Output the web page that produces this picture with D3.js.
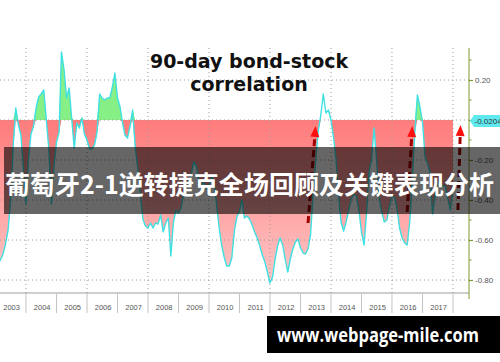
<!DOCTYPE html>
<html>
<head>
<meta charset="utf-8">
<script src="https://cdn.jsdelivr.net/npm/d3@7"></script>
<style>
body{margin:0;background:#fff;}
svg{display:block;}
</style>
</head>
<body>
<div id="chart"></div>
<script>
// monthly 90-day correlation, starting Jan 2003
var startMonth = "2003-01";
var corrValues = [
 -0.72,-0.71,-0.70,-0.67,-0.62,-0.55,-0.40,-0.13, 0.06,-0.02,-0.075,-0.24,
 -0.42,-0.19,-0.07,-0.03, 0.06, 0.115, 0.13, 0.15, 0.00,-0.145,-0.42,-0.23,
 -0.11,-0.06, 0.34, 0.25, 0.11, 0.16, 0.01,-0.14,-0.015,-0.04, 0.01,-0.07,
 -0.10,-0.145,-0.145,-0.125,-0.06, 0.13, 0.11, 0.10, 0.11, 0.11, 0.165, 0.235,
  0.11, 0.065,-0.01,-0.075,-0.09,-0.03, 0.05,-0.135,-0.24,-0.37,-0.495,-0.53,
 -0.54,-0.515,-0.54,-0.515,-0.52,-0.475,-0.56,-0.515,-0.49,-0.68,-0.51,-0.45,
 -0.465,-0.44,-0.375,-0.325,-0.305,-0.275,-0.21,-0.23,-0.30,-0.325,-0.31,-0.345,
 -0.325,-0.285,-0.31,-0.42,-0.535,-0.625,-0.685,-0.73,-0.73,-0.69,-0.555,-0.485,
 -0.455,-0.40,-0.49,-0.48,-0.495,-0.525,-0.56,-0.59,-0.63,-0.675,-0.71,-0.76,
 -0.815,-0.785,-0.70,-0.63,-0.59,-0.625,-0.695,-0.76,-0.695,-0.645,-0.61,-0.595,
 -0.64,-0.665,-0.67,-0.645,-0.575,-0.365,-0.205,-0.055, 0.025, 0.13, 0.035, 0.05,
  0.00,-0.09,-0.19,-0.375,-0.51,-0.555,-0.51,-0.45,-0.395,-0.37,-0.38,-0.45,
 -0.56,-0.625,-0.475,-0.26,-0.20,-0.04,-0.20,-0.39,-0.46,-0.51,-0.50,-0.43,
 -0.385,-0.385,-0.44,-0.54,-0.59,-0.615,-0.625,-0.51,-0.29,-0.06, 0.125, 0.065,
 -0.01,-0.185,-0.215,-0.26,-0.47,-0.38,-0.31,-0.305,-0.33,-0.33,-0.395,-0.45,
 -0.35
];
var yearLabels = [2003,2004,2005,2006,2007,2008,2009,2010,2011,2012,2013,2014,2015,2016,2017];
var gridYears = [2004,2006,2008,2010,2012,2014,2016,2018];
var yTickValues = [0.2,0,-0.2,-0.4,-0.6,-0.8];
var yMinorTicks = [0.3,0.1,-0.1,-0.3,-0.5,-0.7];
var lastValue = -0.0204;
// dashed arrows: [from month, from value, to month, to value]
var arrowMarks = [
 ["2013-04",-0.515,"2013-07",-0.03],
 ["2016-07",-0.46,"2016-09",-0.03],
 ["2018-03",-0.45,"2018-04",-0.025]
];
var titleLines = ["90-day bond-stock","correlation"];
var bannerText = "葡萄牙2-1逆转捷克全场回顾及关键表现分析";
var siteText = "www.webpage-mile.com";

var width = 500, height = 362;
var plotRight = 469, plotTop = 48, plotBottom = 293;

var parseMonth = d3.timeParse("%Y-%m");
var t0 = parseMonth(startMonth);
var series = corrValues.map(function(v,i){
	return {date: d3.timeMonth.offset(t0,i), value: v};
});

var x = d3.scaleTime()
		.domain([new Date(2003,0,1), new Date(2018,0,1)])
		.range([-4.5, 453]);
var y = d3.scaleLinear().domain([-0.8,0.2]).range([280,80]);

var svg = d3.select("#chart")
		.append("svg")
		.attr("width",width)
		.attr("height",height)
		.style("font-family","'Liberation Sans', Arial, sans-serif");

svg.append("rect").attr("width",width).attr("height",height).attr("fill","#fff");

var defs = svg.append("defs");
defs.append("clipPath").attr("id","plotclip")
	.append("rect").attr("x",0).attr("y",plotTop)
	.attr("width",plotRight).attr("height",plotBottom-plotTop);

var greenClip = defs.append("clipPath").attr("id","greenclip");
greenClip.append("rect").attr("x",0).attr("y",0)
	.attr("width",x(new Date(2008,0,1))).attr("height",height);
greenClip.append("rect").attr("x",x(new Date(2016,0,1))).attr("y",0)
	.attr("width",plotRight).attr("height",height);

var pinkGrad = defs.append("linearGradient").attr("id","pinkgrad")
	.attr("gradientUnits","userSpaceOnUse")
	.attr("x1",0).attr("x2",0).attr("y1",y(0)).attr("y2",y(-0.8));
pinkGrad.append("stop").attr("offset","0%").attr("stop-color","#ff7b7b");
pinkGrad.append("stop").attr("offset","100%").attr("stop-color","#ffc6c6");

var plot = svg.append("g").attr("clip-path","url(#plotclip)");

// fills between zero and the line
var negArea = d3.area()
		.x(d => x(d.date))
		.y0(y(0))
		.y1(d => y(Math.min(d.value,0)));
var posArea = d3.area()
		.x(d => x(d.date))
		.y0(y(0))
		.y1(d => y(Math.max(d.value,0)));

plot.append("path").datum(series)
	.attr("d",negArea)
	.attr("fill","url(#pinkgrad)");

plot.append("g").attr("clip-path","url(#greenclip)")
	.append("path").datum(series)
	.attr("d",posArea)
	.attr("fill","#86f086");

// dotted grid
plot.selectAll(".hgrid")
	.data(yTickValues)
	.enter()
	.append("line")
	.attr("class","hgrid")
	.attr("x1",0).attr("x2",plotRight)
	.attr("y1",d => y(d)).attr("y2",d => y(d))
	.attr("stroke","#9a9a9a")
	.attr("stroke-width",1)
	.attr("stroke-dasharray","1,3");

plot.selectAll(".vgrid")
	.data(gridYears)
	.enter()
	.append("line")
	.attr("class","vgrid")
	.attr("x1",d => x(new Date(d,0,1))).attr("x2",d => x(new Date(d,0,1)))
	.attr("y1",plotTop).attr("y2",plotBottom)
	.attr("stroke","#9a9a9a")
	.attr("stroke-width",1)
	.attr("stroke-dasharray","1,3");

var line = d3.line()
		.x(d => x(d.date))
		.y(d => y(d.value));

plot.append("path").datum(series)
	.attr("d",line)
	.attr("fill","none")
	.attr("stroke","#3fe0e2")
	.attr("stroke-width",1.4)
	.attr("stroke-linejoin","round");

// bottom axis
svg.append("line")
	.attr("x1",0).attr("x2",plotRight)
	.attr("y1",plotBottom).attr("y2",plotBottom)
	.attr("stroke","#9c9c9c");

var yearEdges = yearLabels.concat([2018]);
svg.selectAll(".sep")
	.data(yearEdges)
	.enter()
	.append("line")
	.attr("class","sep")
	.attr("x1",d => x(new Date(d,0,1))).attr("x2",d => x(new Date(d,0,1)))
	.attr("y1",plotBottom).attr("y2",plotBottom+20)
	.attr("stroke","#c4c4c4");

svg.selectAll(".yearlab")
	.data(yearLabels)
	.enter()
	.append("text")
	.attr("class","yearlab")
	.attr("x",d => x(new Date(d,6,1)) + 1)
	.attr("y",310)
	.attr("text-anchor","middle")
	.attr("font-size","7.5px")
	.attr("fill","#555")
	.text(d => d);

// right axis
var axisColor = "#7f9a35";
svg.append("line")
	.attr("x1",plotRight).attr("x2",plotRight)
	.attr("y1",plotTop).attr("y2",plotBottom+6)
	.attr("stroke",axisColor)
	.attr("stroke-width",1);

var rightAxis = svg.append("g")
		.attr("transform","translate(" + plotRight + ",0)")
		.call(d3.axisRight(y)
			.tickValues(yTickValues)
			.tickSize(4)
			.tickPadding(2)
			.tickFormat(d => d.toFixed(2)));
rightAxis.select(".domain").remove();
rightAxis.selectAll("line").attr("stroke",axisColor).attr("stroke-width",1.2);
rightAxis.selectAll("text")
	.attr("fill","#555")
	.attr("font-size","8px")
	.attr("font-family","'Liberation Sans', Arial, sans-serif");

svg.selectAll(".minor")
	.data(yMinorTicks)
	.enter()
	.append("line")
	.attr("class","minor")
	.attr("x1",plotRight).attr("x2",plotRight+2.5)
	.attr("y1",d => y(d)).attr("y2",d => y(d))
	.attr("stroke",axisColor);

// title
svg.selectAll(".title")
	.data(titleLines)
	.enter()
	.append("text")
	.attr("class","title")
	.attr("x",249)
	.attr("y",(d,i) => 68 + i*22.5)
	.attr("text-anchor","middle")
	.attr("font-family","'DejaVu Sans', Verdana, sans-serif")
	.attr("font-weight","bold")
	.attr("font-size","19px")
	.attr("fill","#111")
	.text(d => d);

// red dashed arrows
arrowMarks.forEach(function(a){
	var x1 = x(parseMonth(a[0])), y1 = y(a[1]);
	var x2 = x(parseMonth(a[2])), y2 = y(a[3]);
	var len = Math.sqrt((x2-x1)*(x2-x1) + (y2-y1)*(y2-y1));
	var ux = (x2-x1)/len, uy = (y2-y1)/len;
	var bx = x2 - ux*11, by = y2 - uy*11;
	svg.append("line")
		.attr("x1",x1).attr("y1",y1)
		.attr("x2",bx).attr("y2",by)
		.attr("stroke","#a00000")
		.attr("stroke-width",3)
		.attr("stroke-dasharray","7,4");
	svg.append("path")
		.attr("d","M" + x2 + "," + y2 +
			"L" + (bx - uy*4.5) + "," + (by + ux*4.5) +
			"L" + (bx + uy*4.5) + "," + (by - ux*4.5) + "Z")
		.attr("fill","#ff1010");
});

// last value tag
var ty = y(lastValue) - 3;
svg.append("path")
	.attr("d","M" + (plotRight+1) + "," + ty +
		"L" + (plotRight+5) + "," + (ty-6) +
		"L500," + (ty-6) + "L500," + (ty+6) +
		"L" + (plotRight+5) + "," + (ty+6) + "Z")
	.attr("fill","#5ee9ef");
svg.append("text")
	.attr("x",plotRight+5.5)
	.attr("y",ty+3)
	.attr("font-size","8px")
	.attr("fill","#333")
	.text(lastValue.toFixed(4));

// overlay banner
svg.append("rect")
	.attr("x",4).attr("y",147)
	.attr("width",496).attr("height",67)
	.attr("fill","rgba(0,0,0,0.6)");
svg.append("text")
	.attr("x",5)
	.attr("y",194)
	.attr("font-family","'Noto Sans CJK SC', 'Noto Sans', sans-serif")
	.attr("font-weight","bold")
	.attr("font-size","25px")
	.attr("textLength",489)
	.attr("fill","#fff")
	.text(bannerText);

// site box
svg.append("rect")
	.attr("x",267).attr("y",316)
	.attr("width",233).attr("height",37)
	.attr("fill","#000");
svg.append("text")
	.attr("x",277)
	.attr("y",342)
	.attr("font-family","'Open Sans', 'DejaVu Sans', sans-serif")
	.attr("font-weight","bold")
	.attr("font-size","19px")
	.attr("textLength",202)
	.attr("lengthAdjust","spacingAndGlyphs")
	.attr("fill","#fff")
	.text(siteText);
</script>
</body>
</html>
